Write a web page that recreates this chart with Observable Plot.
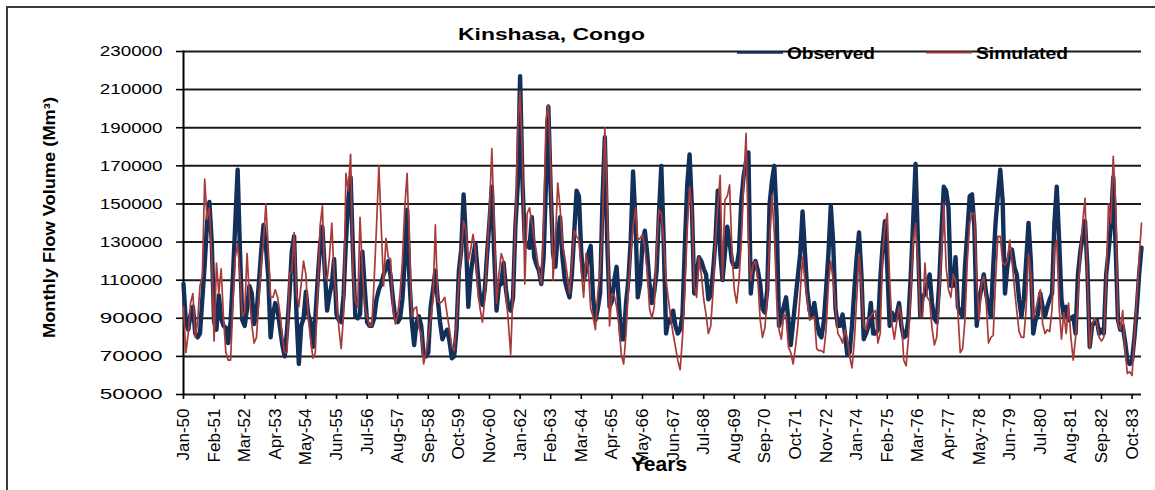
<!DOCTYPE html>
<html>
<head>
<meta charset="utf-8">
<script src="https://cdn.jsdelivr.net/npm/d3@7"></script>
<script src="https://cdn.jsdelivr.net/npm/@observablehq/plot@0.6"></script>
<style>
  html, body { margin: 0; padding: 0; background: #fff; overflow: hidden; }
  #wrap { position: relative; width: 1155px; height: 490px; overflow: hidden; }
  #wrap svg { display: block; }
  #border { position: absolute; left: 6px; top: 6px; width: 1170px; height: 500px;
            border: 2px solid #3a3a3a; box-sizing: border-box; pointer-events: none; }
</style>
</head>
<body>
<div id="wrap"><div id="border"></div></div>
<script>
// ---- Text ----
const chartTitle = "Kinshasa, Congo";
const yTitle = "Monthly Flow Volume (Mm³)";
const xTitle = "Years";
const seriesNames = ["Observed", "Simulated"];

// ---- Axis tick labels (one every 13 months) ----
const tickLabels = ["Jan-50","Feb-51","Mar-52","Apr-53","May-54","Jun-55","Jul-56","Aug-57",
  "Sep-58","Oct-59","Nov-60","Jan-62","Feb-63","Mar-64","Apr-65","May-66","Jun-67","Jul-68",
  "Aug-69","Sep-70","Oct-71","Nov-72","Jan-74","Feb-75","Mar-76","Apr-77","May-78","Jun-79",
  "Jul-80","Aug-81","Sep-82","Oct-83"];
const tickStep = 13;
const yTicks = [50000, 70000, 90000, 110000, 130000, 150000, 170000, 190000, 210000, 230000];

// ---- Monthly flow volume (Mm3), Jan-1950 .. Dec-1983 ----
const observed = [
108000,88000,84000,92000,96000,82000,80000,82000,100000,118000,140000,151000,
130000,88000,84000,102000,90000,86000,85000,77000,88000,112000,140000,168000,
125000,89000,86000,95000,107000,103000,87000,92000,108000,125000,139000,128000,
112000,80000,92000,98000,94000,85000,76000,70000,84000,102000,125000,133000,
92000,66000,86000,90000,104000,92000,88000,75000,90000,110000,128000,138000,
116000,94000,102000,108000,121000,92000,89000,88000,102000,130000,152000,164000,
125000,91000,90000,92000,125000,106000,88000,86000,86000,90000,100000,105000,
108000,113000,116000,120000,112000,100000,90000,88000,90000,100000,120000,147000,
110000,88000,76000,88000,91000,86000,71000,70000,72000,96000,105000,115000,
100000,88000,79000,82000,84000,78000,69000,70000,84000,115000,126000,155000,
131000,96000,113000,122000,129000,114000,100000,97000,105000,124000,141000,159000,
124000,94000,107000,108000,119000,105000,96000,94000,101000,138000,160000,217000,
162000,131000,128000,127000,143000,122000,118000,115000,108000,122000,161000,201000,
157000,124000,117000,134000,143000,122000,110000,105000,101000,113000,135000,157000,
154000,124000,110000,115000,124000,128000,101000,89000,95000,103000,152000,185000,
131000,96000,99000,110000,117000,98000,79000,79000,98000,110000,131000,167000,
141000,101000,108000,130000,136000,124000,108000,98000,104000,115000,145000,170000,
131000,82000,89000,88000,94000,86000,82000,84000,92000,128000,160000,176000,
148000,103000,113000,122000,120000,116000,113000,100000,102000,115000,131000,157000,
125000,110000,124000,138000,130000,120000,117000,117000,125000,152000,165000,172000,
177000,103000,117000,120000,115000,108000,95000,93000,105000,150000,162000,170000,
143000,86000,91000,96000,101000,89000,76000,88000,100000,112000,124000,146000,
125000,104000,94000,91000,98000,89000,82000,80000,88000,105000,124000,149000,
130000,95000,86000,86000,92000,82000,71000,72000,86000,105000,122000,135000,
113000,79000,82000,86000,98000,82000,82000,84000,110000,128000,141000,117000,
86000,93000,89000,92000,98000,86000,80000,81000,90000,113000,141000,171000,
131000,91000,101000,103000,108000,113000,98000,90000,88000,107000,135000,159000,
157000,148000,107000,107000,122000,96000,93000,91000,117000,135000,154000,155000,
138000,86000,99000,106000,113000,103000,96000,91000,117000,140000,155000,168000,
152000,103000,117000,124000,126000,117000,113000,100000,91000,100000,120000,140000,
120000,82000,89000,92000,103000,96000,91000,96000,100000,103000,140000,159000,
131000,100000,91000,96000,89000,90000,91000,82000,113000,125000,133000,141000,
117000,75000,86000,88000,89000,82000,84000,82000,113000,125000,139000,164000,
128000,89000,84000,86000,78000,68000,66000,68000,80000,95000,113000,127000];

const simulated = [
96000,72000,82000,98000,103000,80000,88000,107000,112000,163000,142000,148000,
122000,78000,119000,103000,116000,90000,72000,68000,68000,98000,122000,129000,
113000,91000,93000,124000,101000,87000,77000,80000,100000,118000,131000,150000,
127000,101000,101000,105000,101000,92000,80000,72000,72000,113000,115000,135000,
103000,96000,108000,120000,113000,90000,79000,69000,72000,103000,138000,149000,
112000,110000,122000,140000,112000,100000,85000,74000,92000,166000,157000,176000,
113000,99000,96000,143000,115000,96000,91000,86000,86000,110000,138000,170000,
138000,107000,132000,122000,121000,95000,87000,92000,103000,120000,148000,166000,
128000,91000,95000,96000,85000,82000,66000,72000,80000,89000,100000,139000,
99000,98000,99000,101000,92000,84000,75000,73000,88000,110000,125000,141000,
136000,120000,126000,134000,126000,105000,95000,88000,100000,124000,147000,179000,
138000,98000,113000,124000,120000,103000,88000,71000,105000,138000,189000,209000,
175000,108000,145000,148000,140000,132000,124000,115000,108000,138000,194000,202000,
170000,110000,131000,161000,148000,129000,122000,113000,103000,118000,136000,133000,
131000,115000,101000,124000,115000,95000,91000,84000,103000,115000,138000,190000,
152000,86000,103000,102000,96000,86000,71000,66000,82000,105000,124000,138000,
148000,131000,132000,134000,127000,115000,95000,90000,96000,127000,147000,145000,
131000,110000,100000,90000,82000,75000,68000,63000,80000,105000,136000,159000,
148000,107000,101000,122000,113000,100000,92000,82000,86000,105000,130000,149000,
165000,110000,152000,154000,160000,125000,105000,98000,110000,131000,161000,187000,
131000,110000,118000,120000,110000,89000,80000,85000,100000,131000,154000,135000,
100000,84000,79000,92000,91000,75000,72000,66000,75000,86000,103000,122000,
110000,100000,89000,90000,91000,74000,73000,73000,72000,84000,108000,120000,
110000,96000,82000,80000,77000,84000,79000,70000,64000,78000,100000,124000,
107000,86000,84000,90000,91000,93000,94000,77000,82000,124000,138000,145000,
110000,87000,79000,88000,96000,90000,68000,65000,80000,105000,131000,140000,
120000,91000,91000,119000,101000,99000,85000,76000,80000,100000,124000,150000,
117000,105000,101000,113000,110000,93000,72000,74000,89000,120000,140000,145000,
145000,110000,89000,108000,112000,99000,77000,80000,81000,110000,133000,133000,
119000,118000,120000,131000,120000,106000,94000,83000,80000,80000,95000,124000,
113000,90000,94000,100000,105000,87000,82000,84000,83000,95000,127000,131000,
96000,79000,93000,82000,98000,80000,68000,80000,100000,124000,140000,153000,
113000,74000,86000,90000,88000,80000,78000,80000,110000,150000,140000,175000,
150000,87000,84000,94000,74000,61000,62000,60000,80000,100000,121000,140000];

// ---- Style ----
const FONT = "'Liberation Sans', Arial, Helvetica, sans-serif";
const navy = "#13305a";
const red = "#a83a3a";

const tickIdx = tickLabels.map((_, k) => k * tickStep);

const chart = Plot.plot({
  width: 1155,
  height: 490,
  marginLeft: 183,
  marginRight: 14,
  marginTop: 51,
  marginBottom: 96,
  style: { fontFamily: FONT, background: "transparent", color: "#000", overflow: "visible" },
  x: { domain: [0, observed.length - 1] },
  y: { domain: [yTicks[0], yTicks[yTicks.length - 1]] },
  marks: [
    Plot.ruleY(yTicks, { stroke: "#1a1a1a", strokeWidth: 2 }),
    Plot.axisY({ ticks: yTicks, tickFormat: d => String(d), tickSize: 7, tickPadding: 14,
                 fontSize: 15, label: null, stroke: "#000", strokeWidth: 1.6, fill: "#000" }),
    Plot.axisX({ ticks: tickIdx, tickFormat: d => tickLabels[Math.round(d / tickStep)],
                 tickRotate: -90, tickSize: 5, tickPadding: 9, fontSize: 17, label: null,
                 stroke: "#000", strokeWidth: 1.6, fill: "#000" }),
    Plot.frame({ anchor: "left", stroke: "#000", strokeWidth: 2 }),
    Plot.lineY(observed, { stroke: navy, strokeWidth: 4.4, strokeLinejoin: "round", strokeLinecap: "round" }),
    Plot.lineY(simulated, { stroke: red, strokeWidth: 1.7, strokeLinejoin: "round" })
  ]
});

document.getElementById("wrap").prepend(chart);

// y tick labels: widen to match the reference's stretched digits
const svg = d3.select(chart);
svg.selectAll('g[aria-label="y-axis tick label"] text')
  .attr("textLength", 62.7).attr("lengthAdjust", "spacingAndGlyphs");

// Title, legend and axis titles
const deco = svg.append("g").attr("font-family", FONT).attr("font-weight", "bold")
  .attr("fill", "#000").attr("text-anchor", "start");
deco.append("text").attr("x", 458).attr("y", 40).attr("font-size", 17)
  .attr("textLength", 187).attr("lengthAdjust", "spacingAndGlyphs").text(chartTitle);

const legend = deco.append("g");
legend.append("line").attr("x1", 737).attr("x2", 783).attr("y1", 52.5).attr("y2", 52.5)
  .attr("stroke", navy).attr("stroke-width", 2.5);
legend.append("text").attr("x", 787).attr("y", 59).attr("font-size", 16)
  .attr("textLength", 88).attr("lengthAdjust", "spacingAndGlyphs").text(seriesNames[0]);
legend.append("line").attr("x1", 926).attr("x2", 972).attr("y1", 52.5).attr("y2", 52.5)
  .attr("stroke", red).attr("stroke-width", 2.2);
legend.append("text").attr("x", 976).attr("y", 59).attr("font-size", 16)
  .attr("textLength", 92).attr("lengthAdjust", "spacingAndGlyphs").text(seriesNames[1]);

deco.append("text").attr("transform", "translate(55,217.5) rotate(-90)")
  .attr("text-anchor", "middle").attr("font-size", 16)
  .attr("textLength", 241).attr("lengthAdjust", "spacingAndGlyphs").text(yTitle);

deco.append("text").attr("x", 631).attr("y", 471).attr("font-size", 21).text(xTitle);
</script>
</body>
</html>
